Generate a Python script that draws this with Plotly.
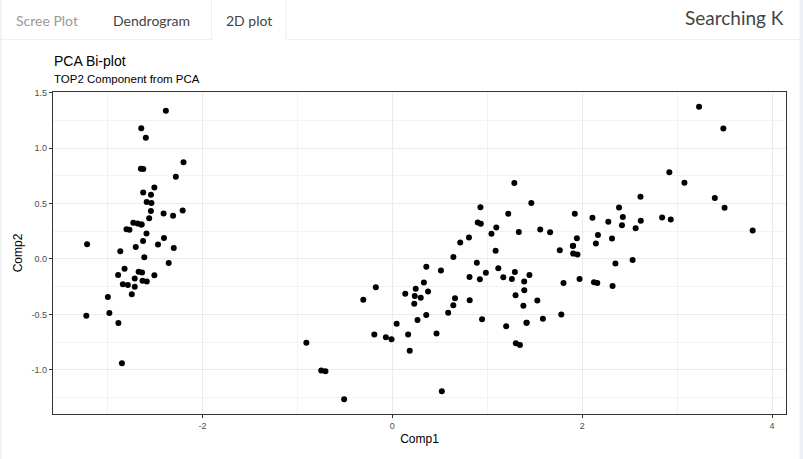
import plotly.graph_objects as go

# PCA scores (Comp1, Comp2)
comp1 = [
    -2.684, -2.714, -2.889, -2.745, -2.729, -2.281, -2.821, -2.626, -2.886, -2.673,
    -2.507, -2.613, -2.786, -3.224, -2.645, -2.386, -2.624, -2.648, -2.200, -2.588,
    -2.310, -2.544, -3.216, -2.303, -2.356, -2.507, -2.469, -2.562, -2.640, -2.632,
    -2.587, -2.410, -2.649, -2.597, -2.637, -2.866, -2.625, -2.801, -2.981, -2.590,
    -2.770, -2.849, -2.997, -2.406, -2.209, -2.714, -2.538, -2.839, -2.543, -2.703,
    1.285, 0.932, 1.464, 0.183, 1.088, 0.642, 1.095, -0.749, 1.044, -0.009,
    -0.508, 0.512, 0.265, 0.985, -0.174, 0.928, 0.660, 0.236, 0.945, 0.045,
    1.116, 0.358, 1.298, 0.922, 0.715, 0.900, 1.332, 1.558, 0.813, -0.306,
    -0.068, -0.190, 0.136, 1.380, 0.588, 0.807, 1.221, 0.815, 0.246, 0.166,
    0.465, 0.890, 0.231, -0.705, 0.357, 0.332, 0.376, 0.643, -0.906, 0.299,
    2.531, 1.414, 2.617, 1.972, 2.350, 3.397, 0.521, 2.933, 2.320, 2.918,
    1.662, 1.803, 2.166, 1.344, 1.586, 1.904, 1.950, 3.487, 3.796, 1.301,
    2.428, 1.199, 3.500, 1.389, 2.275, 2.614, 1.259, 1.291, 2.124, 2.388,
    2.842, 3.231, 2.159, 1.444, 1.780, 3.077, 2.144, 1.905, 1.169, 2.108,
    2.314, 1.922, 1.414, 2.563, 2.419, 1.944, 1.527, 1.764, 1.901, 1.390,
]
comp2 = [
    0.319, -0.177, -0.145, -0.318, 0.327, 0.741, -0.089, 0.163, -0.578, -0.114,
    0.645, 0.015, -0.235, -0.511, 1.179, 1.338, 0.811, 0.312, 0.873, 0.514,
    0.391, 0.433, 0.133, 0.099, -0.037, -0.146, 0.131, 0.368, 0.312, -0.197,
    -0.204, 0.411, 0.813, 1.093, -0.121, 0.069, 0.599, 0.269, -0.488, 0.229,
    0.264, -0.941, -0.342, 0.189, 0.437, -0.250, 0.504, -0.228, 0.579, 0.108,
    0.685, 0.318, 0.504, -0.828, 0.075, -0.418, 0.283, -1.005, 0.228, -0.723,
    -1.266, -0.104, -0.550, -0.125, -0.255, 0.467, -0.353, -0.334, -0.543, -0.584,
    -0.084, -0.069, -0.328, -0.183, 0.149, 0.329, 0.244, 0.267, -0.163, -0.368,
    -0.705, -0.680, -0.314, -0.421, -0.484, 0.194, 0.408, -0.372, -0.269, -0.682,
    -0.671, -0.034, -0.404, -1.012, -0.505, -0.213, -0.293, 0.018, -0.756, -0.349,
    -0.010, -0.575, 0.344, -0.180, -0.040, 0.551, -1.193, 0.356, -0.244, 0.783,
    0.242, -0.216, 0.216, -0.776, -0.540, 0.119, 0.041, 1.176, 0.257, -0.761,
    0.378, -0.606, 0.461, -0.204, 0.335, 0.561, -0.180, -0.117, -0.210, 0.465,
    0.375, 1.374, -0.217, -0.144, -0.500, 0.688, 0.140, 0.049, -0.165, 0.372,
    0.184, 0.409, -0.575, 0.278, 0.305, 0.188, -0.375, 0.079, 0.117, -0.283,
]

x_ticks = [-2, 0, 2, 4]
y_ticks = [-1.0, -0.5, 0.0, 0.5, 1.0, 1.5]
y_tick_labels = ["-1.0", "-0.5", "0.0", "0.5", "1.0", "1.5"]
tabs = ["Scree Plot", "Dendrogram", "2D plot"]

W, H = 803, 459
L, R, T, B = 53, 786, 92, 414


def px(xp):
    return (xp - L) / (R - L)


def py(yp):
    return (B - yp) / (B - T)


def expand(vals, f=0.05):
    lo, hi = min(vals), max(vals)
    d = (hi - lo) * f
    return [lo - d, hi + d]


fig = go.Figure()
fig.add_trace(go.Scatter(
    x=comp1, y=comp2, mode="markers",
    marker=dict(color="black", size=6, line=dict(width=0)),
    hoverinfo="x+y", showlegend=False,
))

axis_common = dict(
    showline=True, linecolor="#333333", linewidth=1.3, mirror=True,
    showgrid=True, gridcolor="#ebebeb", gridwidth=1,
    zeroline=False, ticks="outside", ticklen=3, tickcolor="#333333",
    tickwidth=1,
    tickfont=dict(family="Liberation Sans, Arial", size=9, color="#4d4d4d"),
)

fig.update_xaxes(
    range=expand(comp1), tickvals=x_ticks, ticktext=[str(v) for v in x_ticks],
    minor=dict(dtick=1, tick0=0, showgrid=True, gridcolor="#f3f3f3", gridwidth=0.6, ticks=""),
    title=dict(text="Comp1", font=dict(family="Liberation Sans, Arial", size=12, color="black"), standoff=4),
    **axis_common,
)
fig.update_yaxes(
    range=expand(comp2), tickvals=y_ticks, ticktext=y_tick_labels,
    minor=dict(dtick=0.25, tick0=0, showgrid=True, gridcolor="#f3f3f3", gridwidth=0.6, ticks=""),
    title=dict(text="Comp2", font=dict(family="Liberation Sans, Arial", size=12, color="black"), standoff=6),
    **axis_common,
)

tab_line = "#f0f0f0"
strip = "#ecf0f5"
shapes = [
    dict(type="line", xref="paper", yref="paper", x0=px(0), x1=px(211.5), y0=py(39.5), y1=py(39.5),
         line=dict(color=tab_line, width=1)),
    dict(type="line", xref="paper", yref="paper", x0=px(286), x1=px(803), y0=py(39.5), y1=py(39.5),
         line=dict(color=tab_line, width=1)),
    dict(type="line", xref="paper", yref="paper", x0=px(211.5), x1=px(211.5), y0=py(0), y1=py(39.5),
         line=dict(color=tab_line, width=1)),
    dict(type="line", xref="paper", yref="paper", x0=px(286), x1=px(286), y0=py(0), y1=py(39.5),
         line=dict(color=tab_line, width=1)),
    dict(type="rect", xref="paper", yref="paper", x0=px(799.5), x1=px(803), y0=py(0), y1=py(459),
         fillcolor=strip, line=dict(width=0)),
    dict(type="rect", xref="paper", yref="paper", x0=px(0), x1=px(1.5), y0=py(0), y1=py(459),
         fillcolor=strip, line=dict(width=0)),
]

tab_font = "Lato, Source Sans Pro, sans-serif"
annotations = [
    dict(text=tabs[0], x=px(47), y=py(20), font=dict(family=tab_font, size=14, color="#999999")),
    dict(text=tabs[1], x=px(151.5), y=py(20), font=dict(family=tab_font, size=14, color="#444444")),
    dict(text=tabs[2], x=px(249), y=py(20), font=dict(family=tab_font, size=14, color="#444444")),
    dict(text="Searching K", x=px(786), y=py(18), xanchor="right",
         font=dict(family=tab_font, size=19, color="#444444")),
    dict(text="PCA Bi-plot", x=px(52), y=py(60.5), xanchor="left",
         font=dict(family="Liberation Sans, Arial", size=14, color="black")),
    dict(text="TOP2 Component from PCA", x=px(52), y=py(79), xanchor="left",
         font=dict(family="Liberation Sans, Arial", size=11.5, color="black")),
]
for a in annotations:
    a.update(xref="paper", yref="paper", showarrow=False)
    a.setdefault("xanchor", "center")
    a["yanchor"] = "middle"

fig.update_layout(
    width=W, height=H,
    margin=dict(l=L, r=W - R, t=T, b=H - B, pad=0),
    paper_bgcolor="white", plot_bgcolor="white",
    shapes=shapes, annotations=annotations,
    showlegend=False,
)

fig.write_html("out.html", config={"displayModeBar": False},
               post_script="document.body.style.margin='0';")
